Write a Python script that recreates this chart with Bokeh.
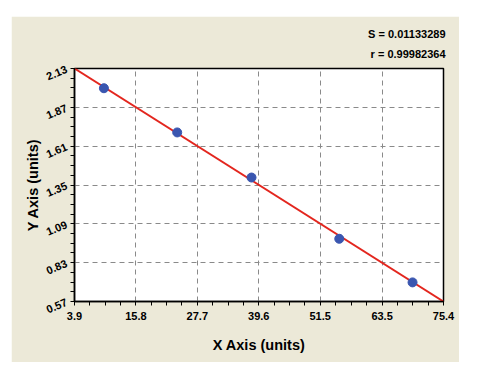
from bokeh.plotting import figure
from bokeh.models import Range1d, FixedTicker, Title
from bokeh.embed import file_html
from bokeh.resources import INLINE

# data
x_vals = [9.6, 23.8, 38.2, 55.2, 69.4]
y_vals = [1.998, 1.702, 1.400, 0.990, 0.698]
fit_x = [3.9, 75.4]
fit_y = [2.13, 0.57]
x_ticks = [3.9, 15.8, 27.7, 39.6, 51.5, 63.5, 75.4]
x_tick_labels = ["3.9", "15.8", "27.7", "39.6", "51.5", "63.5", "75.4"]
y_ticks = [0.57, 0.83, 1.09, 1.35, 1.61, 1.87, 2.13]
y_tick_labels = ["0.57", "0.83", "1.09", "1.35", "1.61", "1.87", "2.13"]
stats = ["S = 0.01133289", "r = 0.99982364"]

BEIGE = "#ECE9D8"
FONT = "Liberation Sans"

def minors(ticks, n=4):
    out = []
    for a, b in zip(ticks[:-1], ticks[1:]):
        for k in range(1, n):
            out.append(a + (b - a) * k / n)
    return out

p = figure(width=448, height=346, output_backend="svg", toolbar_location=None,
           x_range=Range1d(3.9, 75.4), y_range=Range1d(0.57, 2.13),
           min_border_left=63, min_border_right=16, min_border_top=52, min_border_bottom=61)
p.margin = (16, 0, 0, 11)
p.border_fill_color = BEIGE
p.background_fill_color = "white"
p.outline_line_color = "black"
p.outline_line_width = 1.5

p.xaxis.ticker = FixedTicker(ticks=x_ticks, minor_ticks=minors(x_ticks))
p.yaxis.ticker = FixedTicker(ticks=y_ticks, minor_ticks=minors(y_ticks))
p.xaxis.major_label_overrides = dict(zip(x_ticks, x_tick_labels))
p.yaxis.major_label_overrides = dict(zip(y_ticks, y_tick_labels))

for ax in (p.xaxis, p.yaxis):
    ax.axis_line_color = "black"
    ax.axis_line_width = 1.5
    ax.major_tick_line_color = "black"
    ax.minor_tick_line_color = "black"
    ax.major_tick_in = 0
    ax.major_tick_out = 4
    ax.minor_tick_in = 0
    ax.minor_tick_out = 4
    ax.major_label_text_font = FONT
    ax.major_label_text_font_style = "bold"
    ax.major_label_text_font_size = "11px"
    ax.major_label_text_color = "black"
    ax.axis_label_text_font = FONT
    ax.axis_label_text_font_style = "bold"
    ax.axis_label_text_font_size = "14.5px"
    ax.axis_label_text_color = "black"

p.xaxis.axis_label = "X Axis (units)"
p.yaxis.axis_label = "Y Axis (units)"
p.xaxis.major_label_standoff = 6
p.xaxis.axis_label_standoff = 14
p.yaxis.major_label_orientation = 0.4
p.yaxis.major_label_standoff = 4
p.yaxis.axis_label_standoff = 0

p.grid.grid_line_color = "#8a8a8a"
p.grid.grid_line_dash = "5 4"
p.grid.grid_line_width = 1

p.line(fit_x, fit_y, line_color="#E3261E", line_width=2)
p.scatter(x_vals, y_vals, size=9, fill_color="#3A56B0", line_color="#3A56B0")

for s, st in zip(reversed(stats), (17, -4)):
    p.add_layout(Title(text=s, align="right", text_font=FONT, text_font_style="bold",
                       text_font_size="11px", text_color="black", standoff=st, offset=-2), "above")

open("out.html", "w").write(file_html(p, INLINE))
